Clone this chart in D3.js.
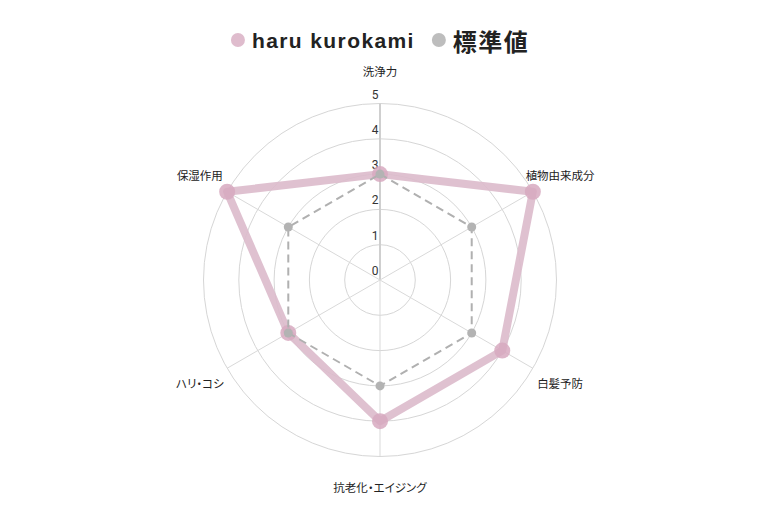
<!DOCTYPE html>
<html>
<head>
<meta charset="utf-8">
<script src="https://cdn.jsdelivr.net/npm/d3@7"></script>
<style>
  html, body { margin: 0; padding: 0; background: #fff; }
  svg { display: block; }
  .axis-label { font-feature-settings: "palt"; }
</style>
</head>
<body>
<svg id="chart" width="760" height="514"></svg>
<script>
const axes = ['洗浄力', '植物由来成分', '白髪予防', '抗老化・エイジング', 'ハリ・コシ', '保湿作用']
const haru = [3, 5, 4, 4, 3, 5]
const standard = [3, 3, 3, 3, 3, 3]
const ticks = [0, 1, 2, 3, 4, 5]
const seriesNames = ['haru kurokami', '標準値']

const cx = 380
const cy = 280
const R = 176.5

const svg = d3.select('#chart')
const r = d3.scaleLinear().domain([0, 5]).range([0, R])
const angle = d3.scalePoint().domain(axes).range([0, 2 * Math.PI * (axes.length - 1) / axes.length])

const g = svg.append('g').attr('transform', `translate(${cx},${cy})`)

// grid circles
g.selectAll('.ring')
    .data(ticks.filter(t => t > 0))
    .enter()
    .append('circle')
    .attr('r', d => r(d))
    .attr('fill', 'none')
    .attr('stroke', '#d6d6d6')
    .attr('stroke-width', 1)

// spokes
g.selectAll('.spoke')
    .data(axes)
    .enter()
    .append('line')
    .attr('x1', 0).attr('y1', 0)
    .attr('x2', d => r(5) * Math.sin(angle(d)))
    .attr('y2', d => -r(5) * Math.cos(angle(d)))
    .attr('stroke', (d, i) => i === 0 ? '#cfcfcf' : '#d9d9d9')
    .attr('stroke-width', (d, i) => i === 0 ? 2 : 1)

// tick labels
g.selectAll('.tick')
    .data(ticks)
    .enter()
    .append('text')
    .attr('x', -5)
    .attr('y', d => -r(d) - 9)
    .attr('text-anchor', 'middle')
    .attr('dominant-baseline', 'central')
    .attr('font-family', 'Roboto, sans-serif')
    .attr('font-size', 12)
    .attr('fill', '#333')
    .text(d => d)

// axis labels
g.selectAll('.axis-label')
    .data(axes)
    .enter()
    .append('text')
    .attr('class', 'axis-label')
    .attr('x', d => 208 * Math.sin(angle(d)))
    .attr('y', d => -208 * Math.cos(angle(d)))
    .attr('text-anchor', 'middle')
    .attr('dominant-baseline', 'central')
    .attr('font-family', 'Roboto, "Noto Sans CJK JP", sans-serif')
    .attr('font-size', 11.5)
    .attr('fill', '#222')
    .text(d => d)

const radarLine = d3.lineRadial()
    .angle((d, i) => angle(axes[i]))
    .radius(d => r(d))
    .curve(d3.curveLinearClosed)

// haru kurokami
g.append('path')
    .datum(haru)
    .attr('d', radarLine)
    .attr('fill', 'none')
    .attr('stroke', '#dcbacb')
    .attr('stroke-opacity', 0.9)
    .attr('stroke-width', 8)
    .attr('stroke-linejoin', 'round')

g.selectAll('.haru-pt')
    .data(haru)
    .enter()
    .append('circle')
    .attr('cx', (d, i) => r(d) * Math.sin(angle(axes[i])))
    .attr('cy', (d, i) => -r(d) * Math.cos(angle(axes[i])))
    .attr('r', 8)
    .attr('fill', '#d7a9c0')
    .attr('fill-opacity', 0.85)

// standard
g.append('path')
    .datum(standard)
    .attr('d', radarLine)
    .attr('fill', 'none')
    .attr('stroke', '#b0b0b0')
    .attr('stroke-width', 2)
    .attr('stroke-dasharray', '8,5')

g.selectAll('.std-pt')
    .data(standard)
    .enter()
    .append('circle')
    .attr('cx', (d, i) => r(d) * Math.sin(angle(axes[i])))
    .attr('cy', (d, i) => -r(d) * Math.cos(angle(axes[i])))
    .attr('r', 4.5)
    .attr('fill', '#b3b3b3')

// legend
const legendColors = ['#dfbccd', '#bdbdbd']
const legendFonts = [
    { family: '"Liberation Sans", Arial, sans-serif', size: 21 },
    { family: '"Noto Sans CJK JP", sans-serif', size: 24 }
]
const legend = svg.append('g')
const items = legend.selectAll('.item')
    .data(seriesNames)
    .enter()
    .append('g')

items.append('circle')
    .attr('r', 7)
    .attr('cx', 7)
    .attr('cy', 0)
    .attr('fill', (d, i) => legendColors[i])

items.append('text')
    .attr('x', 21)
    .attr('y', 0)
    .attr('dominant-baseline', 'central')
    .attr('font-family', (d, i) => legendFonts[i].family)
    .attr('font-size', (d, i) => legendFonts[i].size)
    .attr('letter-spacing', 1.4)
    .attr('font-weight', 'bold')
    .attr('fill', '#222')
    .text(d => d)

let xPos = 0
const offsets = []
items.each(function () {
    offsets.push(xPos)
    xPos += this.getBBox().width + 17
})
const total = xPos - 17
items.attr('transform', (d, i) => `translate(${offsets[i]},0)`)
legend.attr('transform', `translate(${cx - total / 2},40)`)
</script>
</body>
</html>
